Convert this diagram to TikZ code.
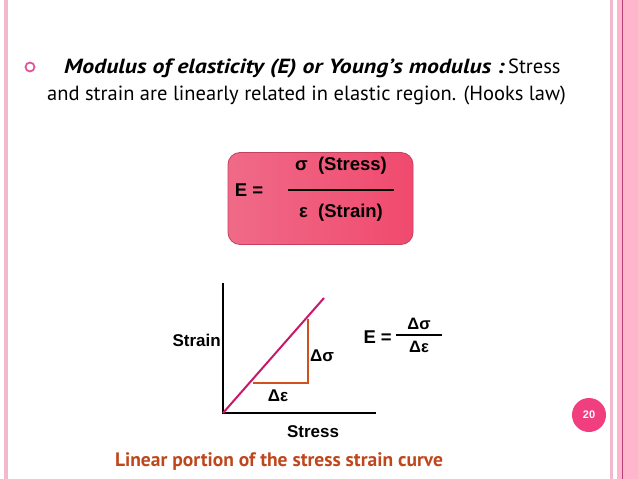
\documentclass[tikz,border=0pt]{standalone}
\usepackage{fontspec}
\setmainfont{Liberation Sans}
\newfontfamily\slidefont{PT Sans}
\newfontfamily\slidewide[FakeStretch=1.16]{PT Sans}
\usetikzlibrary{positioning}

\definecolor{edgepink}{HTML}{F4B8CB}
\definecolor{barpink}{HTML}{FDB6CC}
\definecolor{barline}{HTML}{B8407A}
\definecolor{bulletpink}{HTML}{E0559A}
\definecolor{boxedge}{HTML}{C4425E}
\definecolor{boxleft}{HTML}{F06A88}
\definecolor{boxmid}{HTML}{F9AABC}
\definecolor{boxright}{HTML}{F04A6E}
\definecolor{curvemag}{HTML}{C8186A}
\definecolor{trirust}{HTML}{D0501E}
\definecolor{captionrust}{HTML}{C0461C}
\definecolor{pagepink}{HTML}{F03E7E}

\begin{document}
\begin{tikzpicture}[x=1pt,y=-1pt,
  bodytext/.style={font=\slidefont\fontsize{20.5}{24}\selectfont, anchor=west, inner sep=0pt},
  formtext/.style={font=\bfseries\fontsize{17}{20}\selectfont, inner sep=1pt},
  boxtext/.style={font=\bfseries\fontsize{18.5}{22}\selectfont, inner sep=1pt},
  smalltext/.style={font=\bfseries\fontsize{16.5}{19}\selectfont, inner sep=1pt},
  formulabox/.style={draw=boxedge, line width=0.8pt, rounded corners=12pt,
    left color=boxleft, middle color=boxmid, right color=boxright,
    minimum width=185pt, minimum height=92pt},
  axisline/.style={line width=2.6pt, black},
  fracbar/.style={line width=1.6pt, black}]
  \useasboundingbox (0,0) rectangle (638,479);

  % Page edges
  \fill[edgepink] (4,0) rectangle (8,479);
  \fill[edgepink] (610,0) rectangle (613,479);
  \fill[barpink] (617,0) rectangle (638,479);
  \draw[barline, line width=1.2pt] (622.5,0) -- (622.5,479);

  % Bullet text
  \node[draw=bulletpink, line width=1.8pt, circle, minimum size=9pt, inner sep=0pt] (bullet) at (30,67) {};
  \node[bodytext] (lineA) at (64,68) {{\slidewide\bfseries\itshape Modulus of elasticity (E) or Young’s modulus :}\,Stress};
  \node[bodytext] (lineB) at (47,95) {and strain are linearly related in elastic region. (Hooks law)};

  % Formula box
  \node[formulabox] (modbox) at (320.5,198.5) {};
  \node[boxtext] (modE) at (249,190) {E =};
  \node[boxtext] (modnum) at (341,166) {σ\ \ (Stress)};
  \node[boxtext] (modden) at (341,213) {ε\ \ (Strain)};
  \coordinate (barL) at (288,190);
  \coordinate (barR) at (394,190);
  \draw[fracbar] (barL) -- (barR);

  % Axes
  \coordinate (origin) at (223,413);
  \coordinate (ytop) at (223,283);
  \coordinate (xend) at (376,413);
  \draw[axisline] (ytop) -- (origin) -- (xend);
  \node[formtext, anchor=east] (strainlbl) at (222,340) {Strain};
  \node[formtext] (stresslbl) at (313,432) {Stress};

  % Linear portion
  \coordinate (lineend) at (324,298);
  \draw[curvemag, line width=2pt] (origin) -- (lineend);

  % Slope triangle
  \coordinate (triA) at (253,383);
  \coordinate (triB) at (307.5,383);
  \coordinate (triC) at (307.5,319);
  \draw[trirust, line width=2pt] (triA) -- (triB) -- (triC);
  \node[formtext] (dsig) at (322,356) {Δσ};
  \node[formtext] (deps) at (278,396) {Δε};

  % Slope formula
  \node[boxtext, anchor=east] (slopeE) at (393,337) {E =};
  \node[smalltext] (slopenum) at (419,324) {Δσ};
  \node[smalltext] (slopeden) at (419,347) {Δε};
  \coordinate (sbarL) at (396,335);
  \coordinate (sbarR) at (442,335);
  \draw[fracbar, line width=1.2pt] (sbarL) -- (sbarR);

  % Caption
  \node[font=\slidefont\bfseries\fontsize{19.5}{22}\selectfont, text=captionrust, inner sep=0pt] (caption) at (279,462) {Linear portion of the stress strain curve};

  % Page number
  \node[circle, fill=pagepink, minimum size=34pt, inner sep=0pt, text=white, font=\bfseries\fontsize{11}{13}\selectfont] (pagenum) at (589,415) {20};
\end{tikzpicture}
\end{document}
